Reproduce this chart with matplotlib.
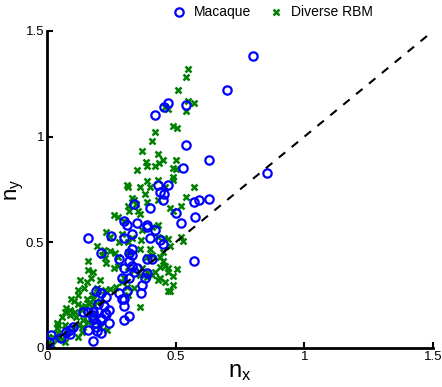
import numpy as np
import matplotlib
matplotlib.use("Agg")
import matplotlib.pyplot as plt

plt.rcParams['font.family'] = ['Liberation Sans', 'DejaVu Sans']

# Macaque (n_x, n_y)
mac_x = np.array([0.80, 0.70, 0.47, 0.455, 0.54, 0.42, 0.54, 0.63, 0.53, 0.855,
                  0.43, 0.47, 0.44, 0.455, 0.45, 0.57, 0.59, 0.63, 0.40, 0.50,
                  0.52, 0.575, 0.34, 0.30, 0.31, 0.35, 0.39, 0.39, 0.42, 0.33,
                  0.30, 0.25, 0.16, 0.40, 0.44, 0.45, 0.21, 0.33, 0.32, 0.33,
                  0.28, 0.32, 0.39, 0.41, 0.57, 0.33, 0.35, 0.34, 0.39, 0.38,
                  0.37, 0.32, 0.365, 0.31, 0.28, 0.29, 0.30, 0.30, 0.32, 0.30,
                  0.19, 0.21, 0.23, 0.18, 0.14, 0.16, 0.225, 0.20, 0.22, 0.24,
                  0.18, 0.23, 0.18, 0.21, 0.19, 0.24, 0.21, 0.19, 0.16, 0.195,
                  0.21, 0.09, 0.075, 0.09, 0.10, 0.055, 0.015, 0.01, 0.18, 0.30,
                  0.29])
mac_y = np.array([1.38, 1.22, 1.16, 1.14, 1.15, 1.10, 0.96, 0.89, 0.85, 0.83,
                  0.77, 0.77, 0.74, 0.73, 0.70, 0.69, 0.70, 0.705, 0.66, 0.64,
                  0.59, 0.62, 0.68, 0.60, 0.58, 0.59, 0.58, 0.57, 0.56, 0.54,
                  0.52, 0.53, 0.52, 0.52, 0.51, 0.49, 0.45, 0.47, 0.45, 0.44,
                  0.42, 0.41, 0.42, 0.42, 0.41, 0.39, 0.38, 0.36, 0.355, 0.33,
                  0.30, 0.33, 0.26, 0.27, 0.26, 0.23, 0.23, 0.20, 0.15, 0.13,
                  0.27, 0.26, 0.24, 0.17, 0.17, 0.17, 0.165, 0.21, 0.20, 0.18,
                  0.155, 0.16, 0.14, 0.13, 0.12, 0.12, 0.14, 0.10, 0.085, 0.08,
                  0.07, 0.085, 0.075, 0.065, 0.10, 0.045, 0.06, 0.03, 0.035, 0.38,
                  0.33])

# Diverse RBM (n_x, n_y)
rbm_x = np.array([0.55, 0.54, 0.51, 0.55, 0.57, 0.54, 0.46, 0.47, 0.49, 0.505,
                  0.42, 0.41, 0.37, 0.43, 0.385, 0.39, 0.42, 0.45, 0.435, 0.50,
                  0.49, 0.50, 0.49, 0.49, 0.35, 0.39, 0.43, 0.31, 0.315, 0.36,
                  0.40, 0.38, 0.33, 0.34, 0.345, 0.315, 0.32, 0.355, 0.36, 0.39,
                  0.43, 0.46, 0.57, 0.54, 0.48, 0.49, 0.52, 0.26, 0.275, 0.30,
                  0.43, 0.41, 0.37, 0.23, 0.29, 0.245, 0.28, 0.365, 0.43, 0.47,
                  0.455, 0.52, 0.53, 0.48, 0.195, 0.22, 0.245, 0.265, 0.275, 0.36,
                  0.315, 0.39, 0.45, 0.44, 0.33, 0.315, 0.40, 0.41, 0.45, 0.46,
                  0.47, 0.505, 0.47, 0.49, 0.44, 0.46, 0.49, 0.47, 0.48, 0.41,
                  0.39, 0.34, 0.36, 0.31, 0.30, 0.225, 0.16, 0.23, 0.26, 0.16,
                  0.18, 0.13, 0.155, 0.145, 0.12, 0.12, 0.175, 0.095, 0.105, 0.12,
                  0.15, 0.185, 0.205, 0.075, 0.09, 0.11, 0.135, 0.06, 0.09, 0.115,
                  0.14, 0.16, 0.175, 0.045, 0.07, 0.10, 0.12, 0.135, 0.045, 0.025,
                  0.045, 0.07, 0.005, 0.02, 0.17, 0.205, 0.195, 0.20, 0.225, 0.245,
                  0.27, 0.315, 0.29, 0.215, 0.275, 0.315, 0.34, 0.37, 0.39, 0.36,
                  0.44, 0.42, 0.43, 0.07, 0.135, 0.155, 0.165, 0.18, 0.04, 0.04,
                  0.005, 0.06, 0.08, 0.14, 0.205, 0.235, 0.12])
rbm_y = np.array([1.32, 1.28, 1.22, 1.17, 1.16, 1.12, 1.14, 1.13, 1.05, 1.04,
                  1.02, 0.98, 0.93, 0.92, 0.88, 0.86, 0.86, 0.89, 0.875, 0.89,
                  0.85, 0.845, 0.81, 0.795, 0.84, 0.79, 0.795, 0.77, 0.76, 0.76,
                  0.76, 0.73, 0.71, 0.70, 0.68, 0.67, 0.65, 0.65, 0.635, 0.69,
                  0.70, 0.76, 0.76, 0.715, 0.66, 0.65, 0.67, 0.63, 0.62, 0.60,
                  0.58, 0.57, 0.56, 0.55, 0.54, 0.525, 0.50, 0.51, 0.525, 0.515,
                  0.52, 0.525, 0.505, 0.48, 0.48, 0.465, 0.46, 0.45, 0.43, 0.47,
                  0.455, 0.43, 0.455, 0.43, 0.52, 0.50, 0.47, 0.44, 0.41, 0.39,
                  0.38, 0.375, 0.36, 0.34, 0.33, 0.31, 0.30, 0.27, 0.27, 0.345,
                  0.335, 0.285, 0.195, 0.29, 0.33, 0.425, 0.41, 0.40, 0.38, 0.37,
                  0.36, 0.32, 0.31, 0.285, 0.275, 0.25, 0.25, 0.23, 0.22, 0.21,
                  0.20, 0.205, 0.22, 0.19, 0.18, 0.17, 0.18, 0.145, 0.155, 0.145,
                  0.13, 0.125, 0.155, 0.11, 0.11, 0.095, 0.11, 0.075, 0.07, 0.05,
                  0.04, 0.03, 0.025, 0.015, 0.33, 0.32, 0.285, 0.27, 0.275, 0.28,
                  0.29, 0.25, 0.31, 0.44, 0.39, 0.385, 0.37, 0.38, 0.36, 0.345,
                  0.385, 0.36, 0.32, 0.17, 0.195, 0.23, 0.21, 0.23, 0.12, 0.095,
                  0.05, 0.04, 0.07, 0.10, 0.10, 0.085, 0.05])

ticks = [0, 0.5, 1, 1.5]
tick_labels = ['0', '0.5', '1', '1.5']

fig = plt.figure(figsize=(4.42, 3.87), dpi=100)
ax = fig.add_axes([0.106, 0.101, 0.874, 0.819])

ax.plot(rbm_x, rbm_y, 'x', color=(0, 0.5, 0), markersize=4, mew=1.8,
        label='Diverse RBM', zorder=2)
ax.plot(mac_x, mac_y, 'o', mfc='none', mec=(0, 0, 1), markersize=6, mew=1.6,
        label='Macaque', zorder=3)
ax.plot([0, 1.5], [0, 1.5], 'k--', lw=1.5, dashes=(4, 4), zorder=4)

ax.set_xlim(0, 1.5)
ax.set_ylim(0, 1.5)
ax.set_xticks(ticks)
ax.set_xticklabels(tick_labels)
ax.set_yticks(ticks)
ax.set_yticklabels(tick_labels)
ax.tick_params(direction='in', length=4, width=1.5, labelsize=9.5, pad=2)
for s in ['top', 'right']:
    ax.spines[s].set_visible(False)
for s in ['left', 'bottom']:
    ax.spines[s].set_linewidth(2)

ax.set_xlabel(r'$\mathregular{n_x}$', fontsize=17, labelpad=-1)
ax.set_ylabel(r'$\mathregular{n_y}$', fontsize=16, labelpad=0)

h, l = ax.get_legend_handles_labels()
fig.legend([h[1], h[0]], [l[1], l[0]], loc='center', ncol=2, frameon=False,
           bbox_to_anchor=(0.615, 0.968), fontsize=10, handlelength=1.2,
           columnspacing=1.2, handletextpad=0.5)

fig.savefig('out.png', dpi=100)
